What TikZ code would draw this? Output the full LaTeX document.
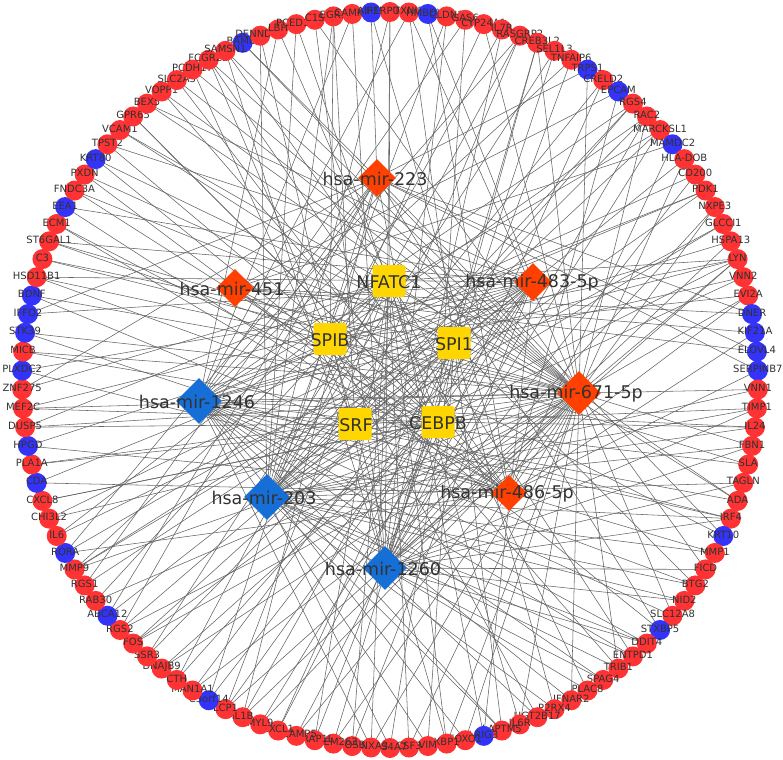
\documentclass[tikz,border=0pt]{standalone}
\usepackage{fontspec}
\setmainfont{DejaVu Sans}
\usetikzlibrary{shapes.geometric}
\pgfdeclarelayer{bg}
\pgfsetlayers{bg,main}
\definecolor{pred}{RGB}{255,51,51}
\definecolor{pblue}{RGB}{51,51,250}
\definecolor{hred}{RGB}{255,64,0}
\definecolor{hblue}{RGB}{22,110,215}
\definecolor{hyel}{RGB}{255,214,0}
\definecolor{lbl}{RGB}{50,50,50}
\definecolor{edg}{RGB}{100,100,100}
\tikzset{
 pnode/.style={circle, minimum size=20pt, inner sep=0pt, draw=none},
 plabel/.style={font=\fontsize{10}{11}\selectfont, text=lbl, inner sep=0pt},
 hubd/.style={diamond, aspect=1, inner sep=0pt, draw=none},
 hubsq/.style={rectangle, rounded corners=2.5pt, fill=hyel, minimum width=33pt, minimum height=32pt, inner sep=0pt},
 hlabel/.style={font=\fontsize{17.5}{18}\selectfont, text=lbl, inner sep=0pt},
 conn/.style={draw=edg, line width=0.55pt},
}
\begin{document}
\begin{tikzpicture}[x=1pt,y=-1pt]
\useasboundingbox (0,0) rectangle (783,759);
% hubs
\node[hubd, fill=hred, minimum size=38pt] (a) at (377,178) {};
\node[hubd, fill=hred, minimum size=38pt] (b) at (235,288) {};
\node[hubsq] (c) at (389,281) {};
\node[hubd, fill=hred, minimum size=38pt] (d) at (533,282) {};
\node[hubsq] (e) at (330,339) {};
\node[hubsq] (f) at (454,343) {};
\node[hubd, fill=hblue, minimum size=46pt] (g) at (199,401) {};
\node[hubsq] (h) at (355,424) {};
\node[hubsq] (i) at (438,422) {};
\node[hubd, fill=hred, minimum size=44pt] (j) at (579,393) {};
\node[hubd, fill=hblue, minimum size=46pt] (k) at (267,497) {};
\node[hubd, fill=hred, minimum size=36pt] (l) at (509,493) {};
\node[hubd, fill=hblue, minimum size=44pt] (m) at (385,568) {};
% peripheral nodes
\foreach \n/\c [count=\i] in {BAMBI/pblue,DENND5B/pred,LBH/pred,PCED1B/pred,C1S/pred,EGR1/pred,CAMK4/pred,AIF1L/pblue,HERPUD1/pred,TXNIP/pred,HMBOX1/pblue,CLDN1/pred,GAS6/pred,CYP24A1/pred,IL7R/pred,RASGRP2/pred,CREB3L2/pred,SEL1L3/pred,TNFAIP6/pred,TRPS1/pblue,CRELD2/pred,EPCAM/pblue,RGS4/pred,RAC2/pred,MARCKSL1/pred,MAMDC2/pblue,HLA-DOB/pred,CD200/pred,PDK1/pred,NXPE3/pred,GLCCI1/pred,HSPA13/pred,LYN/pred,VNN2/pred,EVI2A/pred,DNER/pblue,KIF21A/pblue,ELOVL4/pblue,SERPINB7/pblue,VNN1/pred,TIMP1/pred,IL24/pred,FBN1/pred,SLA/pred,TAGLN/pred,ADA/pred,IRF4/pred,KRT10/pblue,MMP1/pred,FICD/pred,BTG2/pred,NID2/pred,SLC12A8/pred,STXBP5/pblue,DDIT4/pred,ENTPD1/pred,TRIB1/pred,SPAG4/pred,PLAC8/pred,IFNAR2/pred,P2RX4/pred,UGT2B17/pred,IL6R/pred,LAPTM5/pred,LRIG3/pblue,FOXO1/pred,XBP1/pred,VIM/pred,CSF3/pred,MS4A7/pred,ANXA3/pred,FOSB/pred,TMEM263/pred,TRAP1L/pred,SCAMP5/pred,CXCL1/pred,MYL9/pred,IL1B/pred,LCP1/pred,C3orf14/pblue,MAN1A1/pred,CTH/pred,DNAJB9/pred,SSR3/pred,FOS/pred,RGS2/pred,ABCA12/pblue,RAB30/pred,RGS1/pred,MMP9/pred,RORA/pblue,IL6/pred,CHI3L2/pred,CXCL8/pred,CDA/pblue,PLA1A/pred,HPGD/pblue,DUSP5/pred,MEF2C/pred,ZNF275/pred,PLXDC2/pblue,MICB/pred,STK39/pblue,IFFO2/pblue,BDNF/pblue,HSD11B1/pred,C3/pred,ST6GAL1/pred,ECM1/pred,EEA1/pblue,FNDC3A/pred,PXDN/pred,KRT80/pblue,TPST2/pred,VCAM1/pred,GPR65/pred,BEX5/pred,VOPP1/pred,SLC2A3/pred,PCDH17/pred,FCGR2B/pred,SAMSN1/pred}{
  \pgfmathsetmacro\ang{90-(\i-9)*2.9508197}
  \node[pnode, fill=\c] (p\i) at ({390+368*cos(\ang)},{380-368*sin(\ang)}) {};
  \node[plabel] at ([yshift=1.5pt]p\i.center) {\n};
}
% background and connectors
\begin{pgfonlayer}{bg}
\fill[white] (0,0) rectangle (783,759);
\foreach \s/\t in {1/a,1/j,2/k,2/m,3/g,3/c,4/k,4/i,5/m,5/j,6/k,6/h,6/e,7/m,7/g,8/a,8/l,9/k,9/c,9/m,10/g,10/j,10/f,11/l,11/d,12/k,12/m,13/g,13/i,14/k,14/j,15/m,15/e,16/k,16/g,16/h,17/m,17/j,17/f,18/k,18/m,19/g,19/i,20/a,20/j,21/k,21/m,22/b,22/l,23/g,23/k,23/h,24/k,24/m,24/j,24/e,25/g,25/k,25/m,26/b,26/l,27/k,27/j,28/m,28/g,29/k,29/g,29/e,30/m,30/j,31/k,31/h,32/g,32/m,33/k,33/g,33/m,33/j,33/c,33/e,34/k,34/g,35/m,35/j,35/e,36/a,36/b,37/l,37/b,38/b,38/a,39/a,39/l,40/g,40/k,41/k,41/m,41/h,42/g,42/k,42/i,43/k,43/m,43/j,44/g,44/e,45/k,45/m,46/g,46/j,46/c,47/k,47/m,47/g,47/h,48/b,48/a,49/g,49/k,50/m,50/j,51/g,51/k,51/f,52/k,52/m,53/g,53/j,54/a,54/b,55/k,55/g,55/m,56/g,56/k,56/c,57/k,57/j,57/e,58/g,58/m,59/k,59/c,60/g,60/j,61/k,61/f,62/g,62/e,63/j,63/c,64/k,64/g,64/f,65/a,65/d,66/g,66/j,67/c,67/j,67/e,68/g,68/f,69/j,69/c,70/k,70/f,71/j,71/c,71/g,72/c,72/d,73/j,73/f,74/c,74/i,75/j,75/d,76/i,76/f,77/j,77/d,78/j,78/a,78/f,79/c,79/j,79/d,80/d,80/a,81/j,81/f,82/c,82/d,83/j,83/i,84/c,84/f,85/j,85/d,85/i,86/a,86/j,86/f,87/d,87/a,88/c,88/j,89/a,89/f,90/d,90/j,90/c,90/f,91/a,91/d,91/l,92/c,92/f,93/d,93/j,94/j,94/i,95/l,95/d,96/i,96/j,97/l,97/d,98/j,98/h,98/c,99/j,99/d,99/i,100/c,100/a,101/d,101/l,102/j,102/i,103/l,103/j,104/d,104/a,105/l,105/j,106/d,106/j,106/i,107/j,107/f,108/j,108/d,108/e,109/i,109/l,110/l,110/d,111/j,111/i,112/l,112/f,113/j,113/l,114/d,114/i,115/j,115/f,116/l,116/i,117/j,117/d,118/l,118/j,119/j,119/i,120/j,120/h,121/l,121/j,121/e,122/j,122/m,122/c}{
  \draw[conn] (p\s.center) -- (\t.center);
}
\end{pgfonlayer}
% hub labels
\node[hlabel] at (375,179) {hsa-mir-223};
\node[hlabel] at (232,289) {hsa-mir-451};
\node[hlabel] at (389,282) {NFATC1};
\node[hlabel] at (532,283) {hsa-mir-483-5p};
\node[hlabel] at (330,340) {SPIB};
\node[hlabel] at (454,344) {SPI1};
\node[hlabel] at (197,402) {hsa-mir-1246};
\node[hlabel] at (356,425) {SRF};
\node[hlabel] at (438,423) {CEBPB};
\node[hlabel] at (576,394) {hsa-mir-671-5p};
\node[hlabel] at (264,498) {hsa-mir-203};
\node[hlabel] at (507,494) {hsa-mir-486-5p};
\node[hlabel] at (383,569) {hsa-mir-1260};
\end{tikzpicture}
\end{document}
